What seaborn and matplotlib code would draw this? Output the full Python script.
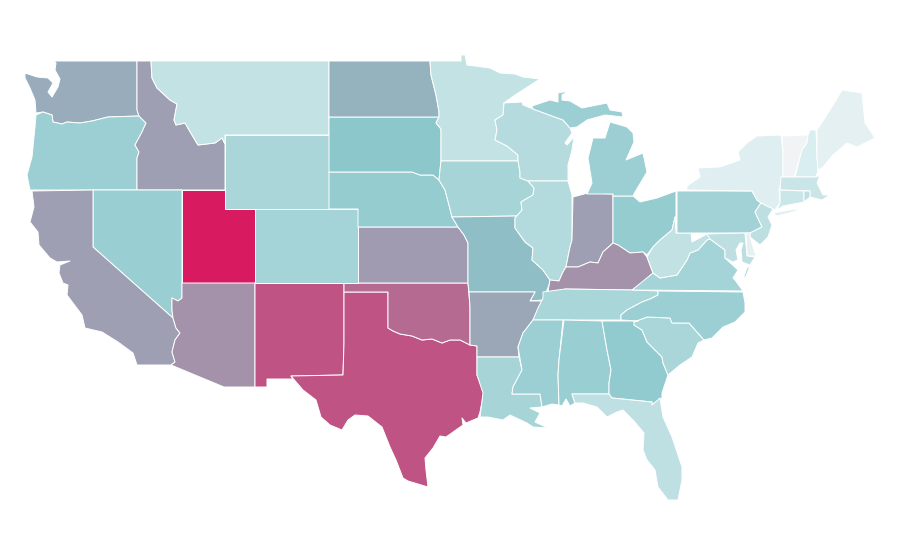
import matplotlib
matplotlib.use("Agg")
import matplotlib.pyplot as plt
from matplotlib.collections import PolyCollection
from matplotlib.colors import Normalize
import seaborn as sns

# State values (0-100)
state_values = {
    "WA": 58, "OR": 43, "ID": 62, "MT": 24, "WY": 36, "UT": 100, "NV": 44, "CA": 62, "AZ": 66, "NM": 83.5,
    "CO": 39, "ND": 56, "SD": 50, "NE": 46, "KS": 63, "OK": 77, "TX": 83.5, "MN": 24, "IA": 38, "MO": 53,
    "AR": 60, "LA": 38, "WI": 31, "IL": 32, "IN": 62, "OH": 46, "MI": 43, "KY": 66, "TN": 37, "MS": 43,
    "AL": 44, "GA": 47, "FL": 26, "SC": 36, "NC": 43, "VA": 39, "WV": 25, "PA": 40, "NY": 9.5, "VT": 0,
    "NH": 13, "ME": 6.5, "MA": 21, "CT": 20, "RI": 26, "NJ": 27, "DE": 6.5, "MD": 27,
}
scale_colors = ["#f2f3f5", "#d9eef0", "#c1e1e3", "#a7d5d8", "#8cc8cc",
                "#9f9db1", "#b27296", "#c5467b", "#d81b60"]

# State outlines in map units
state_shapes = {
    "WA": [[(54,61),(137,61),(137,110),(139,116),(108,117),(92,121),(80,123),(67,122),(62,124),(53,122),(52,115),(43,112),(36,113),(35,100),(30,88),(25,78),(25,73),(37,77),(48,78),(53,83),(48,92),(52,97),(58,87),(60,79),(55,70),(56,63)]],
    "OR": [[(36,115),(43,112),(52,115),(53,122),(62,124),(67,122),(80,123),(92,121),(108,117),(139,116),(146,123),(142,132),(135,145),(139,152),(137,158),(137,190),(30,190),(27,175),(32,157),(35,127)]],
    "ID": [[(137,61),(151,61),(152,78),(157,88),(170,100),(177,104),(174,120),(176,125),(185,123),(192,135),(198,145),(215,143),(222,138),(225,144),(225,190),(137,190),(137,158),(139,152),(135,145),(142,132),(146,123),(139,116),(137,110)]],
    "MT": [[(151,61),(329,61),(329,135),(225,135),(225,144),(222,138),(215,143),(198,145),(192,135),(185,123),(176,125),(174,120),(177,104),(170,100),(157,88),(152,78)]],
    "WY": [[(225,135),(329,135),(329,209),(225,209)]],
    "UT": [[(182,190),(225,190),(225,209),(255,209),(255,283),(182,283)]],
    "NV": [[(93,190),(182,190),(182,298),(178,301),(172,298),(172,310),(173,318),(93,247)]],
    "CA": [[(32,191),(93,190),(93,247),(173,318),(176,328),(180,333),(175,340),(172,352),(175,362),(171,365),(137,365),(133,353),(118,342),(102,332),(85,328),(82,315),(67,295),(68,285),(63,283),(59,273),(60,265),(70,261),(57,262),(50,258),(39,245),(38,232),(30,222),(34,207)]],
    "AZ": [[(182,283),(255,283),(255,387),(224,387),(171,365),(175,362),(172,352),(175,340),(180,333),(176,328),(173,318),(172,310),(172,298),(178,301),(182,298)]],
    "NM": [[(255,283),(344,283),(344,343),(343,375),(291,376),(293,379),(267,379),(267,387),(255,387)]],
    "TX": [[(344,292),(388,292),(388,328),(393,331),(400,334),(412,336),(422,340),(432,339),(442,343),(450,340),(460,340),(470,345),(477,346),(477,375),(484,392),(480,412),(478,418),(466,423),(462,418),(463,425),(446,437),(440,436),(433,448),(425,458),(426,470),(428,487),(408,481),(403,478),(396,460),(390,447),(382,427),(368,416),(355,415),(348,420),(342,430),(330,425),(321,417),(316,400),(303,390),(291,376),(343,375),(344,343)]],
    "OK": [[(344,283),(468,283),(470,307),(470,345),(460,340),(450,340),(442,343),(432,339),(422,340),(412,336),(400,334),(393,331),(388,328),(388,292),(344,292)]],
    "KS": [[(358,227),(458,227),(464,235),(468,243),(468,283),(358,283)]],
    "CO": [[(255,209),(358,209),(358,283),(255,283)]],
    "NE": [[(329,172),(412,172),(420,175),(433,175),(439,180),(445,190),(449,205),(452,217),(458,227),(358,227),(358,209),(329,209)]],
    "SD": [[(329,117),(439,117),(436,123),(441,129),(441,161),(440,170),(439,180),(433,175),(420,175),(412,172),(329,172)]],
    "ND": [[(329,61),(430,61),(431,75),(436,95),(439,112),(439,117),(329,117)]],
    "MN": [[(430,61),(461,61),(461,55),(465,55),(467,65),(490,68),(500,73),(515,74),(523,77),(540,79),(515,95),(504,103),(503,115),(495,120),(497,130),(495,140),(507,146),(518,155),(518,161),(441,161),(441,129),(436,123),(439,117),(439,112),(436,95),(431,75)]],
    "IA": [[(441,161),(518,161),(520,172),(520,178),(528,181),(534,188),(533,195),(521,202),(522,210),(517,216),(452,217),(449,205),(445,190),(439,180),(440,170)]],
    "MO": [[(452,217),(517,216),(515,218),(515,228),(525,242),(533,248),(532,260),(543,270),(550,280),(549,285),(543,300),(530,301),(535,292),(469,292),(468,283),(468,243),(464,235),(458,227)]],
    "AR": [[(469,292),(535,292),(530,301),(542,301),(540,305),(533,320),(523,333),(518,347),(519,357),(477,357),(477,346),(470,345),(470,307)]],
    "LA": [[(477,357),(519,357),(522,370),(513,387),(512,394),(540,394),(542,407),(530,408),(540,413),(535,422),(548,428),(533,427),(527,423),(510,415),(503,420),(488,417),(480,417),(483,393),(477,375)]],
    "WI": [[(504,103),(522,102),(523,105),(533,109),(563,120),(570,128),(572,133),(565,143),(567,145),(574,137),(572,150),(568,165),(568,181),(528,181),(520,178),(520,172),(518,161),(518,155),(507,146),(495,140),(497,130),(495,120),(503,115)]],
    "IL": [[(528,181),(568,181),(572,195),(572,240),(570,247),(566,267),(563,272),(559,281),(550,280),(543,270),(532,260),(533,248),(525,242),(515,228),(515,218),(522,210),(521,202),(533,195),(534,188)]],
    "IN": [[(573,197),(588,193),(613,194),(613,243),(603,252),(598,263),(590,262),(578,267),(566,267),(570,247),(572,240)]],
    "OH": [[(613,196),(633,196),(640,202),(657,198),(676,191),(676,223),(675,217),(672,230),(660,240),(653,247),(647,255),(643,252),(630,253),(618,245),(613,243)]],
    "MI": [[(587,194),(592,183),(588,158),(593,138),(605,138),(610,122),(627,127),(633,133),(634,142),(626,160),(643,153),(647,172),(635,192),(633,196),(613,196),(613,194)],
           [(532,106),(550,100),(558,102),(558,93),(568,91),(562,95),(562,100),(570,101),(582,108),(607,103),(610,110),(622,112),(623,117),(605,115),(587,120),(577,127),(570,128),(563,120),(533,109)]],
    "KY": [[(548,292),(550,280),(559,281),(563,272),(566,267),(578,267),(590,262),(598,263),(603,252),(613,243),(618,245),(630,253),(643,252),(647,257),(653,273),(643,283),(632,290),(565,289),(565,290)]],
    "TN": [[(543,292),(565,289),(632,290),(658,291),(658,295),(650,299),(642,302),(627,310),(621,315),(621,320),(533,320),(538,308),(543,298)]],
    "MS": [[(533,320),(563,320),(559,360),(558,375),(559,405),(552,404),(542,407),(540,394),(512,394),(513,387),(522,370),(518,347),(523,333)]],
    "AL": [[(564,320),(602,321),(607,350),(611,370),(609,383),(609,394),(572,394),(575,403),(570,406),(566,399),(562,406),(559,405),(558,375),(559,360)]],
    "GA": [[(602,321),(638,321),(634,325),(642,330),(647,342),(662,357),(663,363),(668,375),(662,393),(662,398),(652,405),(652,402),(612,398),(609,394),(609,383),(611,370),(607,350)]],
    "FL": [[(572,394),(609,394),(612,398),(652,402),(652,405),(660,398),(663,417),(672,437),(682,467),(682,480),(678,500),(668,500),(658,487),(655,470),(647,460),(643,450),(644,433),(633,420),(623,410),(617,412),(607,417),(597,407),(583,403),(575,403)]],
    "SC": [[(634,322),(647,317),(670,318),(672,323),(689,323),(704,340),(698,343),(692,357),(680,365),(668,375),(663,363),(662,357),(647,342),(642,330),(634,325)]],
    "NC": [[(658,291),(743,292),(745,303),(745,312),(735,322),(723,327),(712,338),(704,340),(689,323),(672,323),(670,318),(647,317),(634,322),(638,321),(621,320),(621,315),(627,310),(642,302),(650,299),(658,295)]],
    "VA": [[(632,290),(653,273),(660,278),(677,275),(687,260),(690,253),(698,250),(707,240),(710,239),(725,250),(725,258),(738,270),(733,278),(735,280),(743,291)],
           [(750,266),(747,268),(743,279),(746,276)]],
    "WV": [[(647,257),(653,247),(660,240),(672,230),(675,217),(676,233),(691,233),(692,242),(707,234),(715,235),(710,239),(707,240),(698,250),(690,253),(687,260),(677,275),(660,278),(653,273)]],
    "PA": [[(677,191),(687,191),(752,191),(757,200),(761,203),(755,212),(762,227),(750,233),(677,233)]],
    "NY": [[(687,190),(687,186),(700,177),(698,168),(720,167),(740,160),(738,152),(747,143),(757,136),(781,135),(783,153),(783,177),(779,190),(780,203),(775,210),(761,203),(757,200),(752,191)],
           [(773,213),(802,208),(793,212),(777,216)]],
    "VT": [[(782,136),(808,135),(807,143),(802,150),(794,177),(783,177),(783,153)]],
    "NH": [[(810,130),(816,130),(817,157),(818,170),(816,177),(795,177),(802,150),(807,143),(808,135)]],
    "ME": [[(817,130),(830,110),(842,90),(862,93),(865,123),(875,138),(857,147),(847,143),(833,155),(822,168),(818,170),(817,157)]],
    "MA": [[(781,177),(816,177),(820,175),(817,183),(823,195),(830,195),(822,200),(810,197),(810,191),(780,190)]],
    "CT": [[(780,190),(804,191),(804,202),(783,206),(777,210),(780,203)]],
    "RI": [[(804,191),(810,191),(810,197),(804,202)]],
    "NJ": [[(761,203),(773,209),(768,217),(772,225),(768,237),(760,245),(750,237),(750,233),(762,227),(755,212)]],
    "DE": [[(746,233),(750,233),(750,237),(756,256),(747,256)]],
    "MD": [[(707,234),(745,233),(747,256),(755,257),(750,265),(742,262),(741,250),(743,243),(740,243),(736,250),(738,260),(733,262),(725,258),(725,250),(710,239)]],
}

sns.set_theme(style="white")
cmap = sns.blend_palette(scale_colors, as_cmap=True)

fig, ax = plt.subplots(figsize=(9, 5.6), dpi=100)
ax.set_position([0, 0, 1, 1])

parts = []
part_values = []
for code, shapes in state_shapes.items():
    for shape in shapes:
        parts.append(shape)
        part_values.append(state_values[code])

states = PolyCollection(parts, array=part_values, cmap=cmap, norm=Normalize(0, 100),
                        edgecolors="white", linewidths=0.7)
ax.add_collection(states)
ax.set_xlim(0, 900)
ax.set_ylim(560, 0)
ax.axis("off")
fig.savefig("out.png", dpi=100)
